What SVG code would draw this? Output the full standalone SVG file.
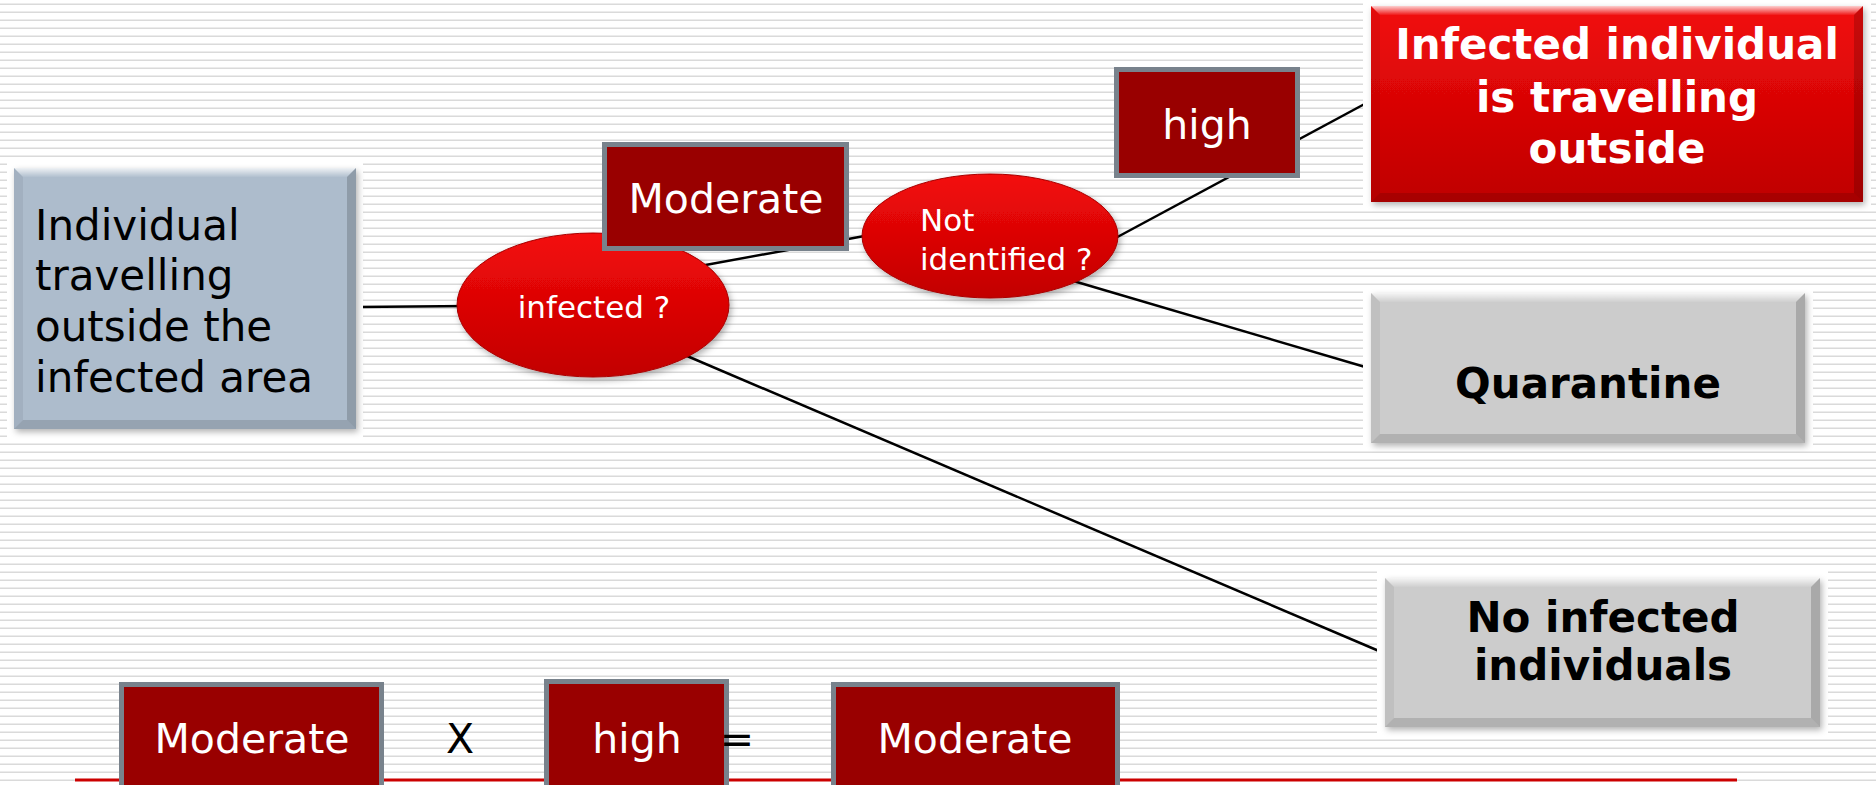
<svg xmlns="http://www.w3.org/2000/svg" width="1876" height="785" viewBox="0 0 1876 785">
  <defs>
    <pattern id="stripes" width="8" height="8" patternUnits="userSpaceOnUse">
      <rect width="8" height="8" fill="#ffffff"/>
      <rect y="3" width="8" height="1" fill="#ececec"/>
      <rect y="4" width="8" height="1" fill="#dadada"/>
    </pattern>
    <linearGradient id="redFill" x1="0" y1="0" x2="0" y2="1">
      <stop offset="0" stop-color="#f20b0b"/>
      <stop offset="1" stop-color="#bf0000"/>
    </linearGradient>
    <linearGradient id="ovalFill" x1="0" y1="0" x2="0" y2="1">
      <stop offset="0" stop-color="#f40a0a"/>
      <stop offset="1" stop-color="#c20000"/>
    </linearGradient>
    <linearGradient id="bevelTop" x1="0" y1="0" x2="0" y2="1">
      <stop offset="0" stop-color="#ffffff" stop-opacity="0.8"/>
      <stop offset="1" stop-color="#ffffff" stop-opacity="0.05"/>
    </linearGradient>
    <filter id="shadow" x="-10%" y="-10%" width="120%" height="130%">
      <feDropShadow dx="2" dy="3" stdDeviation="3" flood-color="#000" flood-opacity="0.3"/>
    </filter>
    <style>
      .halo { fill: #ffffff; }
      .bt { fill: url(#bevelTop); }
      .bleft { fill: #000000; fill-opacity: 0.06; }
      .bright { fill: #000000; fill-opacity: 0.17; }
      .bbot { fill: #000000; fill-opacity: 0.13; }
      .tag { fill: #990000; stroke: #78828c; stroke-width: 5; }
      .oval { fill: url(#ovalFill); stroke: #a80000; stroke-width: 1; filter: url(#shadow); }
      .conn { stroke: #000000; stroke-width: 2.5; fill: none; }
      .t { font-family: "DejaVu Sans", Verdana, sans-serif; }
      .w { fill: #ffffff; }
      .k { fill: #000000; }
      .b { font-weight: bold; font-size: 42px; text-anchor: middle; }
      .tagtxt { font-size: 41px; text-anchor: middle; fill: #ffffff; }
    </style>
  </defs>

  <!-- striped slide background -->
  <rect width="1876" height="785" fill="url(#stripes)"/>

  <!-- bottom rule -->
  <line x1="75" y1="780" x2="1737" y2="780" stroke="#cc0000" stroke-width="3"/>

  <!-- connectors -->
  <g id="connectors">
    <line class="conn" x1="356" y1="307" x2="470" y2="306"/>
    <line class="conn" x1="700" y1="266" x2="870" y2="235"/>
    <line class="conn" x1="1110" y1="241" x2="1372" y2="100"/>
    <line class="conn" x1="1070" y1="280" x2="1372" y2="369"/>
    <line class="conn" x1="680" y1="353" x2="1386" y2="654"/>
  </g>

  <!-- start node -->
  <g id="start">
    <rect class="halo" x="7" y="161" width="356" height="276"/>
    <rect x="14" y="168" width="342" height="261" fill="#adbccc" filter="url(#shadow)"/>
    <polygon class="bt" points="14,168 356,168 347,177 23,177"/>
    <polygon class="bleft" points="14,168 23,177 23,420 14,429"/>
    <polygon class="bright" points="356,168 356,429 347,420 347,177"/>
    <polygon class="bbot" points="14,429 356,429 347,420 23,420"/>
    <text class="t k" font-size="42" x="35" y="240">Individual</text>
    <text class="t k" font-size="42" x="35" y="290">travelling</text>
    <text class="t k" font-size="42" x="35" y="341">outside the</text>
    <text class="t k" font-size="42" x="35" y="392">infected area</text>
  </g>

  <!-- first decision -->
  <g id="infected">
    <ellipse class="oval" cx="593" cy="305" rx="136" ry="72"/>
    <text class="t w" font-size="31" x="594" y="318" text-anchor="middle">infected ?</text>
  </g>

  <!-- probability tag on first branch -->
  <g id="tag-moderate">
    <rect class="tag" x="604.5" y="144.5" width="242" height="104"/>
    <text class="t tagtxt" x="726" y="213">Moderate</text>
  </g>

  <!-- second decision -->
  <g id="not-identified">
    <ellipse class="oval" cx="990" cy="236" rx="128" ry="62"/>
    <text class="t w" font-size="31" x="920" y="231">Not</text>
    <text class="t w" font-size="31" x="920" y="270">identified ?</text>
  </g>

  <!-- probability tag on second branch -->
  <g id="tag-high">
    <rect class="tag" x="1116.5" y="69.5" width="181" height="106"/>
    <text class="t tagtxt" x="1207" y="139">high</text>
  </g>

  <!-- outcome: infected traveller -->
  <g id="outcome-infected">
    <rect class="halo" x="1363" y="0" width="508" height="210"/>
    <rect x="1371" y="6" width="492" height="196" fill="url(#redFill)" filter="url(#shadow)"/>
    <polygon class="bt" points="1371,6 1863,6 1854,15 1380,15"/>
    <polygon class="bleft" points="1371,6 1380,15 1380,193 1371,202"/>
    <polygon class="bright" points="1863,6 1863,202 1854,193 1854,15"/>
    <polygon class="bbot" points="1371,202 1863,202 1854,193 1380,193"/>
    <text class="t w b" x="1617" y="59">Infected individual</text>
    <text class="t w b" x="1617" y="112">is travelling</text>
    <text class="t w b" x="1617" y="163">outside</text>
  </g>

  <!-- outcome: quarantine -->
  <g id="outcome-quarantine">
    <rect class="halo" x="1363" y="285" width="450" height="166"/>
    <rect x="1371" y="293" width="434" height="150" fill="#cccccc" filter="url(#shadow)"/>
    <polygon class="bt" points="1371,293 1805,293 1796,302 1380,302"/>
    <polygon class="bleft" points="1371,293 1380,302 1380,434 1371,443"/>
    <polygon class="bright" points="1805,293 1805,443 1796,434 1796,302"/>
    <polygon class="bbot" points="1371,443 1805,443 1796,434 1380,434"/>
    <text class="t k b" x="1588" y="398">Quarantine</text>
  </g>

  <!-- outcome: none infected -->
  <g id="outcome-none">
    <rect class="halo" x="1377" y="570" width="451" height="165"/>
    <rect x="1385" y="578" width="435" height="149" fill="#cccccc" filter="url(#shadow)"/>
    <polygon class="bt" points="1385,578 1820,578 1811,587 1394,587"/>
    <polygon class="bleft" points="1385,578 1394,587 1394,718 1385,727"/>
    <polygon class="bright" points="1820,578 1820,727 1811,718 1811,587"/>
    <polygon class="bbot" points="1385,727 1820,727 1811,718 1394,718"/>
    <text class="t k b" x="1603" y="632">No infected</text>
    <text class="t k b" x="1603" y="680">individuals</text>
  </g>

  <!-- risk product: Moderate x high = Moderate -->
  <g id="eq-moderate">
    <rect class="tag" x="121.5" y="684.5" width="260" height="120"/>
    <text class="t tagtxt" x="252" y="753">Moderate</text>
  </g>
  <g id="eq-times">
    <text class="t k" font-size="41" x="460" y="753" text-anchor="middle">X</text>
  </g>
  <g id="eq-high">
    <rect class="tag" x="546.5" y="681.5" width="180" height="120"/>
    <text class="t tagtxt" x="637" y="753">high</text>
  </g>
  <g id="eq-equals">
    <text class="t k" font-size="41" x="737" y="753" text-anchor="middle">=</text>
  </g>
  <g id="eq-result">
    <rect class="tag" x="833.5" y="684.5" width="284" height="120"/>
    <text class="t tagtxt" x="975" y="753">Moderate</text>
  </g>
</svg>
